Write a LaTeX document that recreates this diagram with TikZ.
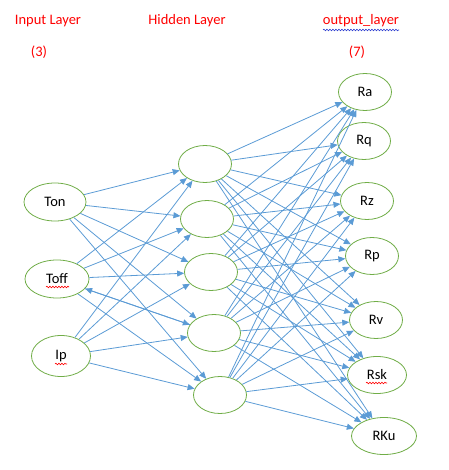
\documentclass[tikz,border=0pt]{standalone}
\usepackage{fontspec}
\setmainfont{Carlito}
\usetikzlibrary{shapes.geometric,arrows.meta,decorations.pathmorphing}
\definecolor{edgeblue}{HTML}{5B9BD5}
\definecolor{nodegreen}{HTML}{70AD47}
\definecolor{titlered}{HTML}{FF0000}
\definecolor{spellblue}{HTML}{2F3FD0}
\begin{document}
\begin{tikzpicture}[x=1pt,y=-1pt,
  neuron/.style={ellipse,draw=nodegreen,line width=0.8pt,fill=white,inner sep=0pt,
    minimum width=53pt,minimum height=37pt,font=\fontsize{14.5}{16}\selectfont},
  inneuron/.style={neuron,minimum width=62pt,minimum height=38pt},
  title/.style={text=titlered,font=\fontsize{14.5}{16}\selectfont,inner sep=0pt},
  link/.style={draw=edgeblue,line width=0.8pt,-{Triangle[width=6pt,length=7pt]}},
  wavy/.style={line width=0.6pt,decorate,decoration={snake,amplitude=0.8pt,segment length=3pt}}]
\useasboundingbox (0,0) rectangle (448,470);
% titles
\node[title] (tin) at (48,21) {Input Layer};
\node[title] (thid) at (187,21) {Hidden Layer};
\node[title] (tout) at (361,21) {output\_layer};
\node[title] (nin) at (39,52) {(3)};
\node[title] (nout) at (357,52) {(7)};
% input layer
\node[inneuron] (i1) at (55,202) {Ton};
\node[inneuron,minimum width=64pt] (i2) at (57,279) {Toff};
\node[inneuron,minimum width=59pt,minimum height=41pt] (i3) at (61,356) {Ip};
% hidden layer
\node[neuron] (h1) at (205,164) {};
\node[neuron] (h2) at (207,219) {};
\node[neuron] (h3) at (211,272) {};
\node[neuron] (h4) at (214,333) {};
\node[neuron] (h5) at (220,395) {};
% output layer
\node[neuron] (o1) at (365,92) {Ra};
\node[neuron] (o2) at (364,141) {Rq};
\node[neuron] (o3) at (367,201) {Rz};
\node[neuron] (o4) at (372,256) {Rp};
\node[neuron] (o5) at (376,320) {Rv};
\node[neuron,minimum width=59pt] (o6) at (377,375) {Rsk};
\node[neuron,minimum width=65pt] (o7) at (384,436) {RKu};
% connections input -> hidden
\foreach \i in {1,2,3}{
  \foreach \h in {1,...,5}{
    \draw[link] (i\i) -- (h\h);
  }
}
\draw[draw=edgeblue,line width=0.8pt,{Triangle[width=6pt,length=7pt]}-] (i2) -- (h4);
% connections hidden -> output
\foreach \h in {1,...,5}{
  \foreach \o in {1,...,7}{
    \draw[link] (h\h) -- (o\o);
  }
}
% spell-check underlines
\draw[wavy,spellblue] ([xshift=-38pt,yshift=-9pt]tout.center) -- ++(76,0);
\draw[wavy,titlered] ([xshift=-11pt,yshift=-8pt]i2.center) -- ++(23,0);
\draw[wavy,titlered] ([xshift=-6pt,yshift=-8pt]i3.center) -- ++(12,0);
\draw[wavy,titlered] ([xshift=-11pt,yshift=-8pt]o6.center) -- ++(21,0);
\end{tikzpicture}
\end{document}
